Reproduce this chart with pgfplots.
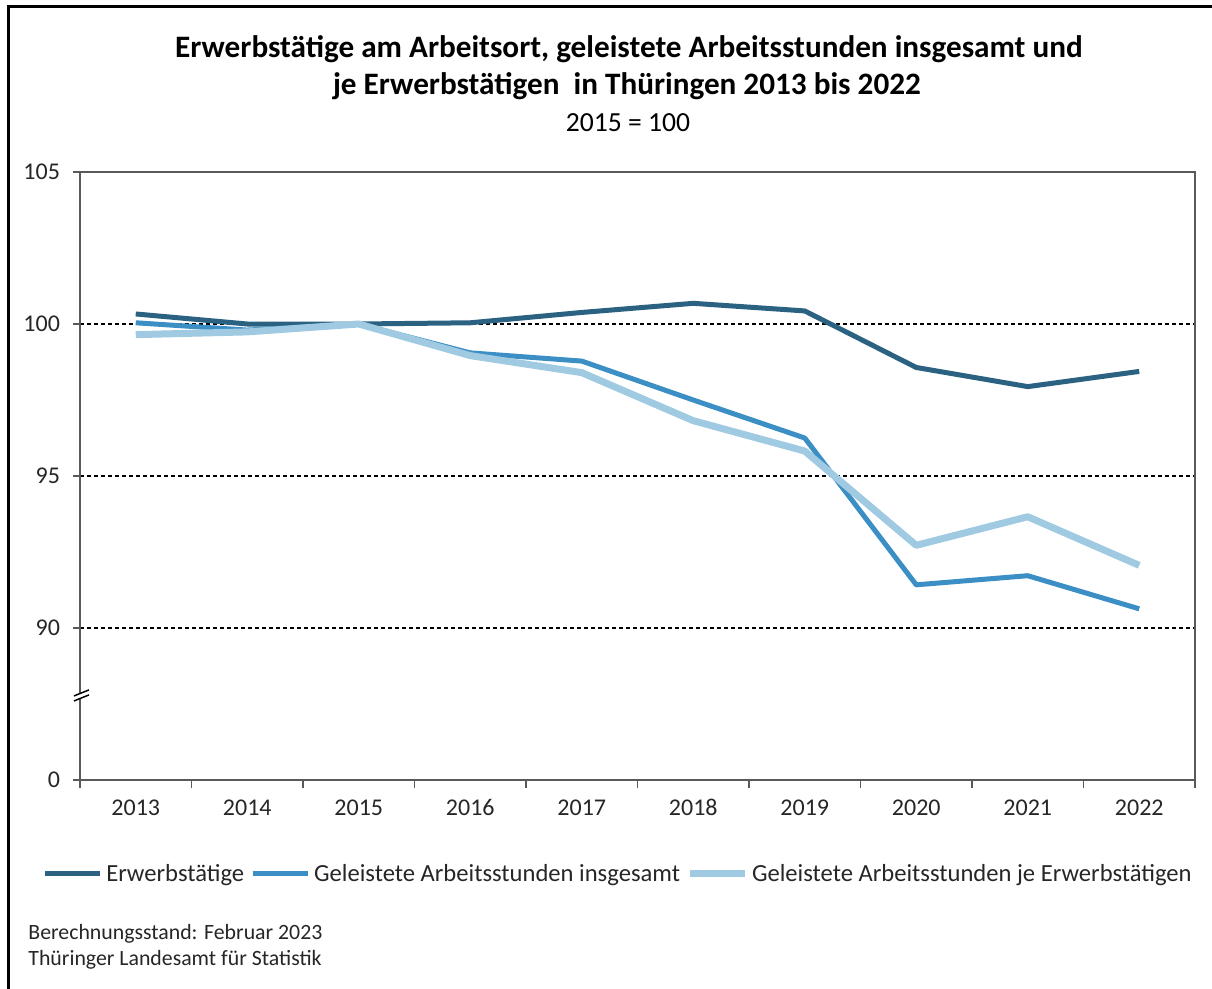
\documentclass[border=0pt]{standalone}
\usepackage{fontspec}
\setmainfont{Carlito}
\usepackage{pgfplots}
\pgfplotsset{compat=1.18}
\definecolor{cDark}{HTML}{2B6282}
\definecolor{cMid}{HTML}{3C8FC4}
\definecolor{cLight}{HTML}{9FCAE2}
\definecolor{axgray}{HTML}{595959}
\definecolor{txt}{HTML}{262626}
\begin{document}
\begin{tikzpicture}
\useasboundingbox (0,0) rectangle (606pt,-494.5pt);
\draw[line width=1.5pt,black] (4pt,-494.5pt) -- (4pt,-3.5pt) -- (606pt,-3.5pt);
\node[font=\bfseries\fontsize{15.6}{18}\selectfont,text=black] at (314.5pt,-24.5pt) {Erwerbstätige am Arbeitsort, geleistete Arbeitsstunden insgesamt und};
\node[font=\bfseries\fontsize{15.6}{18}\selectfont,text=black] at (313.5pt,-43pt) {je Erwerbstätigen\ \ in Thüringen 2013 bis 2022};
\node[font=\fontsize{13.8}{16}\selectfont,text=black] at (314pt,-61.5pt) {2015 = 100};
\node[anchor=west,font=\fontsize{10.9}{12}\selectfont,text=txt,inner sep=0pt] at (14pt,-467pt) {Berechnungsstand: Februar 2023};
\node[anchor=west,font=\fontsize{10.9}{12}\selectfont,text=txt,inner sep=0pt] at (14pt,-480pt) {Thüringer Landesamt für Statistik};
\begin{axis}[
  at={(40pt,-390pt)}, anchor=south west,
  scale only axis, width=557.5pt, height=304pt,
  xmin=-0.5, xmax=9.5, ymin=85, ymax=105,
  tick pos=left,
  xtick={0,...,9},
  xticklabels={2013,2014,2015,2016,2017,2018,2019,2020,2021,2022},
  major x tick style={draw=none},
  minor xtick={-0.5,0.5,...,9.5},
  minor x tick style={draw=axgray,line width=0.75pt},
  minor tick length=4pt,
  major tick length=3.5pt,
  tick align=outside,
  ytick={85,90,95,100,105},
  yticklabels={0,90,95,100,105},
  y tick style={draw=axgray,line width=0.75pt},
  ymajorgrids,
  grid style={black,line width=0.6pt,dash pattern=on 2pt off 1.5pt},
  axis line style={axgray,line width=0.75pt},
  ticklabel style={font=\fontsize{12}{14}\selectfont,text=txt},
  yticklabel style={xshift=-3pt},
  xticklabel style={anchor=base,yshift=-14pt},
  clip=false,
  legend columns=3,
  legend style={at={(-0.0342,-0.1546)},anchor=west,draw=none,fill=none,
    inner sep=0pt,font=\fontsize{12.3}{14}\selectfont,text=txt,
    /tikz/every even column/.append style={column sep=1pt}},
  legend cell align=left,
  legend image code/.code={\draw[#1] (0pt,0pt) -- (27.5pt,0pt);},
]
\addplot[cDark,line width=2.5pt,line join=round] coordinates {
(0,100.33) (1,100.0) (2,100.0) (3,100.04) (4,100.38) (5,100.68) (6,100.43) (7,98.57) (8,97.94) (9,98.44)};
\addlegendentry{Erwerbstätige}
\addplot[cMid,line width=2.5pt,line join=round] coordinates {
(0,100.04) (1,99.80) (2,100.0) (3,99.05) (4,98.78) (5,97.50) (6,96.25) (7,91.42) (8,91.72) (9,90.63)};
\addlegendentry{Geleistete Arbeitsstunden insgesamt}
\addplot[cLight,line width=3.5pt,line join=round] coordinates {
(0,99.65) (1,99.74) (2,100.0) (3,98.96) (4,98.40) (5,96.82) (6,95.82) (7,92.72) (8,93.66) (9,92.06)};
\addlegendentry{Geleistete Arbeitsstunden je Erwerbstätigen}
\fill[white] ([xshift=-3pt,yshift=-1.5pt]axis cs:-0.5,87.7) -- ([xshift=4.5pt,yshift=1.5pt]axis cs:-0.5,87.7) -- ([xshift=4.5pt,yshift=4pt]axis cs:-0.5,87.7) -- ([xshift=-3pt,yshift=1pt]axis cs:-0.5,87.7) -- cycle;
\draw[black,line width=0.75pt] ([xshift=-3pt,yshift=-1.5pt]axis cs:-0.5,87.7) -- ([xshift=4.5pt,yshift=1.5pt]axis cs:-0.5,87.7);
\draw[black,line width=0.75pt] ([xshift=-3pt,yshift=1pt]axis cs:-0.5,87.7) -- ([xshift=4.5pt,yshift=4pt]axis cs:-0.5,87.7);
\end{axis}
\end{tikzpicture}
\end{document}
